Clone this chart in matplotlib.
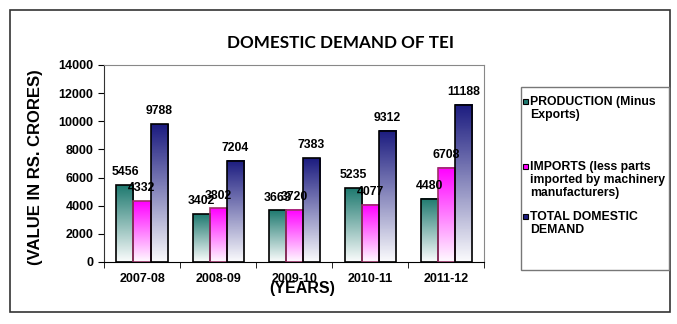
import numpy as np
import matplotlib
matplotlib.use('Agg')
from matplotlib import pyplot as plt
from matplotlib.colors import LinearSegmentedColormap
from matplotlib.patches import Rectangle

years = ['2007-08', '2008-09', '2009-10', '2010-11', '2011-12']
production = [5456, 3402, 3663, 5235, 4480]
imports = [4332, 3802, 3720, 4077, 6708]
total = [9788, 7204, 7383, 9312, 11188]

series_names = ['PRODUCTION (Minus\nExports)',
                'IMPORTS (less parts\nimported by machinery\nmanufacturers)',
                'TOTAL DOMESTIC\nDEMAND']
top_colors = ['#1f7a70', '#ff00ff', '#1c1c80']
edge_colors = ['black', '#993366', 'black']

plt.rcParams['font.family'] = ['Liberation Sans', 'DejaVu Sans']

fig = plt.figure(figsize=(6.77, 3.24), dpi=100)
ax = fig.add_axes([0.1536, 0.1914, 0.5617, 0.608])

width = 0.224
x = np.arange(len(years))
for k, vals in enumerate([production, imports, total]):
    cmap = LinearSegmentedColormap.from_list('g%d' % k, ['#ffffff', top_colors[k]])
    grad = np.linspace(0.02, 1, 100).reshape(-1, 1)
    for i, v in enumerate(vals):
        xc = x[i] + (k - 1) * width
        ax.imshow(grad, extent=[xc - width / 2, xc + width / 2, 0, v], origin='lower',
                  aspect='auto', cmap=cmap, vmin=0, vmax=1, zorder=1)
        ax.bar(xc, v, width, facecolor='none', edgecolor=edge_colors[k], linewidth=1.2, zorder=2)
        ax.annotate(str(v), (xc, v), xytext=(0, 5), textcoords='offset points',
                    ha='center', va='bottom', fontsize=8.8, fontweight='bold', zorder=3)

ax.set_xlim(-0.5, len(years) - 0.5)
ax.set_ylim(0, 14000)
ax.set_yticks(np.arange(0, 14001, 2000))
ax.set_xticks(x)
ax.set_xticklabels(years, fontsize=9, fontweight='bold')
ax.set_xticks(np.arange(-0.5, len(years), 1), minor=True)
ax.tick_params(axis='x', which='major', length=0, pad=8)
ax.tick_params(axis='x', which='minor', length=4, direction='out')
ax.tick_params(axis='y', length=4, direction='out', labelsize=9)
for lab in ax.get_yticklabels():
    lab.set_fontweight('bold')
ax.spines['top'].set_color('#888888')
ax.spines['right'].set_color('#888888')
ax.spines['left'].set_color('#333333')

fig.text(0.446, 0.111, '(YEARS)', ha='center', va='center', fontsize=11.5, fontweight='bold')
fig.text(0.053, 0.483, '(VALUE IN RS. CRORES)', ha='center', va='center', rotation=90,
         fontsize=12, fontweight='bold')
fig.text(0.503, 0.867, 'DOMESTIC DEMAND OF TEI', ha='center', va='center', fontsize=12.3,
         family=['Lato', 'DejaVu Sans'], fontweight='bold')

# outer border and legend box
fig.patches.append(Rectangle((0.0148, 0.037), 0.975, 0.932, transform=fig.transFigure,
                             fill=False, edgecolor='#333333', linewidth=1.2))
fig.patches.append(Rectangle((0.7696, 0.1667), 0.2186, 0.5648, transform=fig.transFigure,
                             fill=False, edgecolor='#777777', linewidth=1.0))
legend_y = [1 - 101.7 / 324, 1 - 166.7 / 324, 1 - 216.7 / 324]
for k, name in enumerate(series_names):
    fig.patches.append(Rectangle((523 / 677, legend_y[k] - 2.5 / 324), 5 / 677, 5 / 324,
                                 transform=fig.transFigure, facecolor=top_colors[k],
                                 edgecolor='black', linewidth=0.8))
    fig.text(530 / 677, legend_y[k] + 6 / 324, name, ha='left', va='top', fontsize=8.8,
             fontweight='bold', linespacing=1.15)

fig.savefig('out.png', dpi=100)
